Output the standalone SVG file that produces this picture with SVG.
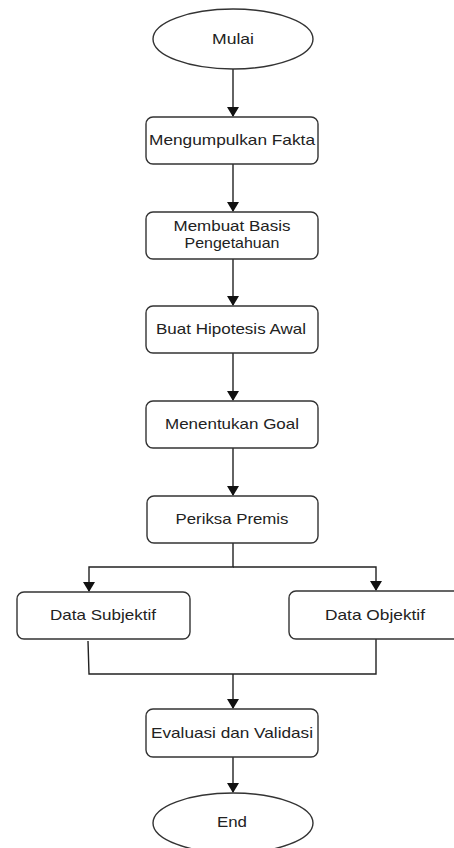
<svg xmlns="http://www.w3.org/2000/svg" width="454" height="848" viewBox="0 0 454 848">
<style>
.n{fill:#fff;stroke:#333;stroke-width:1.4}
.t{font-family:"Liberation Sans",Arial,sans-serif;font-size:14.5px;fill:#222;text-anchor:middle}
.c{fill:none;stroke:#222;stroke-width:1.4}
</style>
<defs>
<marker id="ah" markerWidth="10" markerHeight="12" refX="9" refY="6" orient="auto" markerUnits="userSpaceOnUse">
<path d="M0,0 L10,6 L0,12 Z" fill="#111"/>
</marker>
</defs>
<rect width="454" height="848" fill="#fff"/>
<g id="connectors">
<path class="c" d="M233,69 V116" marker-end="url(#ah)"/>
<path class="c" d="M233,164 V211" marker-end="url(#ah)"/>
<path class="c" d="M233,259 V305" marker-end="url(#ah)"/>
<path class="c" d="M233,353 V400" marker-end="url(#ah)"/>
<path class="c" d="M233,448 V495" marker-end="url(#ah)"/>
<path class="c" d="M233,543 V567 H89 V591" marker-end="url(#ah)"/>
<path class="c" d="M233,567 H376 V590" marker-end="url(#ah)"/>
<path class="c" d="M88,641 L89,674 H376 V639"/>
<path class="c" d="M233,674 V708" marker-end="url(#ah)"/>
<path class="c" d="M233,757 V792" marker-end="url(#ah)"/>
</g>
<g id="mulai"><ellipse class="n" cx="233" cy="39" rx="80" ry="30"/><text class="t" x="233" y="44" textLength="42" lengthAdjust="spacingAndGlyphs">Mulai</text></g>
<g id="fakta"><rect class="n" x="146" y="117" width="172" height="47" rx="7"/><text class="t" x="232" y="145" textLength="166" lengthAdjust="spacingAndGlyphs">Mengumpulkan Fakta</text></g>
<g id="basis"><rect class="n" x="146" y="212" width="172" height="47" rx="7"/><text class="t" x="232" y="231" textLength="117" lengthAdjust="spacingAndGlyphs">Membuat Basis</text><text class="t" x="232" y="248" textLength="95" lengthAdjust="spacingAndGlyphs">Pengetahuan</text></g>
<g id="hipotesis"><rect class="n" x="146" y="306" width="172" height="47" rx="7"/><text class="t" x="231" y="334" textLength="150" lengthAdjust="spacingAndGlyphs">Buat Hipotesis Awal</text></g>
<g id="goal"><rect class="n" x="146" y="401" width="172" height="47" rx="7"/><text class="t" x="232" y="429" textLength="134" lengthAdjust="spacingAndGlyphs">Menentukan Goal</text></g>
<g id="premis"><rect class="n" x="147" y="496" width="171" height="47" rx="7"/><text class="t" x="232" y="524" textLength="113" lengthAdjust="spacingAndGlyphs">Periksa Premis</text></g>
<g id="subjektif"><rect class="n" x="17" y="592" width="173" height="47" rx="7"/><text class="t" x="103" y="620" textLength="106" lengthAdjust="spacingAndGlyphs">Data Subjektif</text></g>
<g id="objektif"><rect class="n" x="289" y="591" width="173" height="48" rx="7"/><text class="t" x="375" y="620" textLength="100" lengthAdjust="spacingAndGlyphs">Data Objektif</text></g>
<g id="evaluasi"><rect class="n" x="146" y="709" width="172" height="48" rx="7"/><text class="t" x="232" y="738" textLength="162" lengthAdjust="spacingAndGlyphs">Evaluasi dan Validasi</text></g>
<g id="end"><ellipse class="n" cx="233" cy="823" rx="80" ry="30"/><text class="t" x="232" y="827" textLength="30" lengthAdjust="spacingAndGlyphs">End</text></g>
</svg>
